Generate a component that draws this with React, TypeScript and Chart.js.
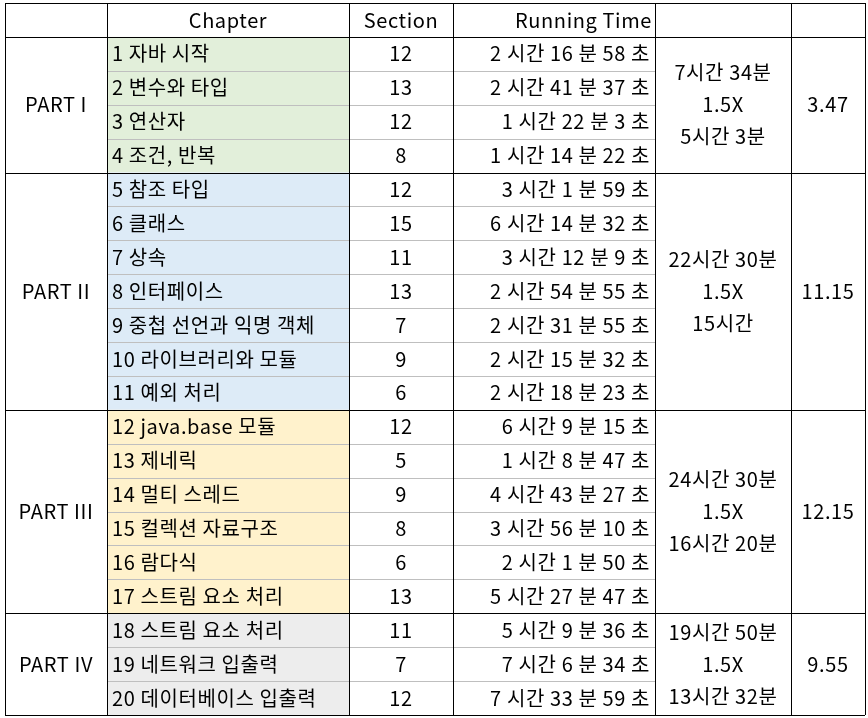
import React, { useEffect, useRef } from "react";
import { Chart, registerables } from "chart.js";
Chart.register(...registerables);

const headers = ["", "Chapter", "Section", "Running Time", "", ""];
const chapters = ["1 자바 시작","2 변수와 타입","3 연산자","4 조건, 반복","5 참조 타입","6 클래스","7 상속","8 인터페이스","9 중첩 선언과 익명 객체","10 라이브러리와 모듈","11 예외 처리","12 java.base 모듈","13 제네릭","14 멀티 스레드","15 컬렉션 자료구조","16 람다식","17 스트림 요소 처리","18 스트림 요소 처리","19 네트워크 입출력","20 데이터베이스 입출력"];
const sections = [12,13,12,8,12,15,11,13,7,9,6,12,5,9,8,6,13,11,7,12];
const times = ["2 시간 16 분 58 초","2 시간 41 분 37 초","1 시간 22 분 3 초","1 시간 14 분 22 초","3 시간 1 분 59 초","6 시간 14 분 32 초","3 시간 12 분 9 초","2 시간 54 분 55 초","2 시간 31 분 55 초","2 시간 15 분 32 초","2 시간 18 분 23 초","6 시간 9 분 15 초","1 시간 8 분 47 초","4 시간 43 분 27 초","3 시간 56 분 10 초","2 시간 1 분 50 초","5 시간 27 분 47 초","5 시간 9 분 36 초","7 시간 6 분 34 초","7 시간 33 분 59 초"];
const parts = ["PART I","PART II","PART III","PART IV"];
const partSizes = [4,7,6,3];
const partTotals = [["7시간 34분","1.5X","5시간 3분"],["22시간 30분","1.5X","15시간"],["24시간 30분","1.5X","16시간 20분"],["19시간 50분","1.5X","13시간 32분"]];
const partRatios = ["3.47","11.15","12.15","9.55"];
const partColors = ["#E2EFDA","#DDEBF7","#FFF2CC","#EDEDED"];

const colEdges = [5, 107, 349, 453, 655, 791, 865];

export default function App() {
  const ref = useRef<HTMLCanvasElement>(null);
  useEffect(() => {
    document.body.style.margin = "0";
    const font = '20px "Noto Sans CJK KR", "Noto Sans", sans-serif';
    const tablePlugin = {
      id: "table",
      afterDraw(chart: any) {
        const ctx = chart.ctx as any;
        const xs = chart.scales.x, ys = chart.scales.y;
        const X = (i: number) => xs.getPixelForValue(colEdges[i]);
        const Y = (r: number) => ys.getPixelForValue(r);
        ctx.save();
        let r = 1;
        partSizes.forEach((n, p) => {
          ctx.fillStyle = partColors[p];
          ctx.fillRect(X(1), Y(r), X(2) - X(1), Y(r + n) - Y(r));
          r += n;
        });
        ctx.font = font;
        ctx.letterSpacing = "0.6px";
        ctx.textBaseline = "middle";
        ctx.fillStyle = "#000";
        const mid = (a: number, b: number) => (a + b) / 2;
        ctx.textAlign = "center";
        ctx.fillText(headers[1], mid(X(1), X(2)), mid(Y(0), Y(1)));
        ctx.fillText(headers[2], mid(X(2), X(3)), mid(Y(0), Y(1)));
        ctx.textAlign = "right";
        ctx.fillText(headers[3], X(4) - 3, mid(Y(0), Y(1)));
        chapters.forEach((c, i) => {
          const cy = mid(Y(i + 1), Y(i + 2));
          ctx.textAlign = "left";
          ctx.fillText(c, X(1) + 5, cy);
          ctx.textAlign = "center";
          ctx.fillText(String(sections[i]), mid(X(2), X(3)), cy);
          ctx.textAlign = "right";
          ctx.fillText(times[i], X(4) - 5, cy);
        });
        ctx.strokeStyle = "#BFBFBF";
        ctx.lineWidth = 1;
        for (let i = 2; i <= 20; i++) {
          ctx.beginPath();
          ctx.moveTo(X(1), Math.round(Y(i)) + 0.5);
          ctx.lineTo(X(4), Math.round(Y(i)) + 0.5);
          ctx.stroke();
        }
        r = 1;
        ctx.strokeStyle = "#000";
        partSizes.forEach((n, p) => {
          const y0 = Y(r), y1 = Y(r + n), cy = mid(y0, y1);
          ctx.textAlign = "center";
          ctx.fillText(parts[p], mid(X(0), X(1)), cy);
          partTotals[p].forEach((t, k) => ctx.fillText(t, mid(X(4), X(5)), cy + (k - 1) * 32));
          ctx.fillText(partRatios[p], mid(X(5), X(6)), cy);
          ctx.beginPath();
          ctx.moveTo(X(0), Math.round(y1) + 0.5);
          ctx.lineTo(X(6), Math.round(y1) + 0.5);
          ctx.stroke();
          r += n;
        });
        ctx.beginPath();
        ctx.moveTo(X(0), Math.round(Y(0)) + 0.5); ctx.lineTo(X(6), Math.round(Y(0)) + 0.5);
        ctx.moveTo(X(0), Math.round(Y(1)) + 0.5); ctx.lineTo(X(6), Math.round(Y(1)) + 0.5);
        for (let i = 0; i < colEdges.length; i++) {
          const x = Math.round(X(i)) + 0.5;
          ctx.moveTo(x, Y(0)); ctx.lineTo(x, Y(21));
        }
        ctx.stroke();
        ctx.restore();
      },
    };
    const chart = new Chart(ref.current!, {
      type: "scatter",
      data: { datasets: [{ data: [] }] },
      options: {
        animation: false,
        responsive: false,
        layout: { padding: { top: 3, bottom: 3, left: 0, right: 0 } },
        plugins: { legend: { display: false }, tooltip: { enabled: false } },
        scales: {
          x: { type: "linear", min: 0, max: 868, display: false },
          y: { type: "linear", min: 0, max: 21, reverse: true, display: false },
        },
      },
      plugins: [tablePlugin],
    });
    return () => chart.destroy();
  }, []);
  return <canvas ref={ref} width={868} height={718} style={{ display: "block", background: "#fff" }} />;
}
